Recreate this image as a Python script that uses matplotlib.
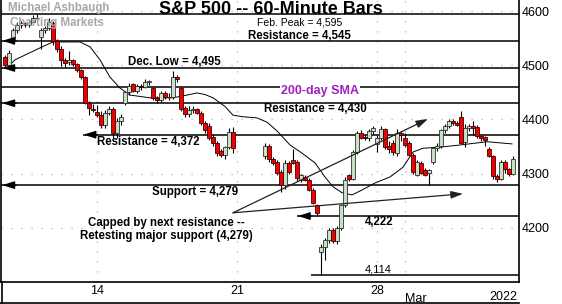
import numpy as np
import matplotlib.pyplot as plt
from matplotlib import font_manager
from matplotlib.lines import Line2D


# Busco la fuente angosta; si no esta uso la normal.
def pick(*names):
    for n in names:
        try:
            font_manager.findfont(font_manager.FontProperties(family=n), fallback_to_default=False)
            return n
        except ValueError:
            pass
    return "DejaVu Sans"


narrow = pick("Liberation Sans Narrow", "Liberation Sans")
arial = pick("Liberation Sans", "DejaVu Sans")


# Dias de la grafica y cuantas barras de 60 minutos tiene cada uno (el 21 es feriado).
days = ["02-08", "02-09", "02-10", "02-11", "02-14", "02-15", "02-16", "02-17", "02-18", "02-21",
        "02-22", "02-23", "02-24", "02-25", "02-28", "03-01", "03-02", "03-03", "03-04"]
bars_per_day = [2, 7, 7, 7, 7, 7, 7, 7, 7, 0, 7, 7, 7, 7, 7, 7, 7, 7, 7]

# Velas (open, high, low, close).
opens = [4515, 4500,
         4547, 4565, 4574, 4578, 4574, 4580, 4588,
         4553, 4565, 4568, 4578, 4545, 4530, 4510,
         4506, 4510, 4502, 4491, 4478, 4430, 4420,
         4414, 4408, 4390, 4412, 4420, 4376, 4398,
         4430, 4450, 4465, 4452, 4462, 4460, 4470,
         4458, 4440, 4436, 4449, 4441, 4442, 4478,
         4458, 4422, 4410, 4418, 4420, 4412, 4393,
         4388, 4368, 4357, 4342, 4335, 4349, 4377,
         4332, 4351, 4327, 4322, 4303, 4279, 4320,
         4325, 4322, 4289, 4294, 4289, 4270, 4242,
         4156, 4165, 4178, 4196, 4176, 4200, 4242,
         4298, 4291, 4340, 4375, 4368, 4366, 4378,
         4354, 4366, 4382, 4352, 4357, 4338, 4376,
         4366, 4357, 4335, 4298, 4320, 4307, 4302,
         4322, 4347, 4352, 4380, 4388, 4397, 4394,
         4404, 4358, 4385, 4388, 4386, 4370, 4368,
         4346, 4332, 4296, 4290, 4322, 4308, 4300]
highs = [4519, 4528,
         4568, 4580, 4582, 4580, 4584, 4592, 4595,
         4568, 4572, 4588, 4582, 4548, 4535, 4514,
         4526, 4512, 4505, 4493, 4480, 4435, 4428,
         4426, 4416, 4418, 4424, 4423, 4402, 4410,
         4452, 4468, 4468, 4466, 4466, 4474, 4473,
         4460, 4444, 4452, 4452, 4448, 4490, 4482,
         4460, 4425, 4424, 4424, 4422, 4415, 4398,
         4394, 4374, 4360, 4346, 4352, 4385, 4386,
         4356, 4354, 4330, 4325, 4306, 4325, 4324,
         4345, 4326, 4300, 4297, 4292, 4273, 4245,
         4170, 4182, 4200, 4200, 4204, 4245, 4294,
         4300, 4343, 4378, 4380, 4372, 4382, 4388,
         4372, 4388, 4385, 4360, 4362, 4382, 4378,
         4375, 4360, 4338, 4325, 4324, 4310, 4308,
         4350, 4356, 4383, 4392, 4400, 4401, 4398,
         4416, 4392, 4392, 4398, 4390, 4372, 4370,
         4350, 4335, 4300, 4325, 4326, 4310, 4332]
lows = [4497, 4497,
        4540, 4560, 4568, 4570, 4570, 4578, 4582,
        4530, 4560, 4565, 4538, 4525, 4498, 4496,
        4500, 4498, 4488, 4474, 4428, 4408, 4414,
        4404, 4385, 4384, 4408, 4366, 4366, 4390,
        4426, 4446, 4450, 4448, 4455, 4458, 4464,
        4436, 4430, 4432, 4438, 4436, 4438, 4470,
        4416, 4405, 4405, 4412, 4410, 4390, 4376,
        4362, 4352, 4332, 4330, 4327, 4345, 4338,
        4328, 4322, 4316, 4298, 4267, 4272, 4300,
        4318, 4286, 4284, 4286, 4268, 4244, 4222,
        4114, 4141, 4172, 4172, 4170, 4196, 4238,
        4287, 4288, 4336, 4364, 4362, 4360, 4374,
        4340, 4362, 4345, 4338, 4335, 4333, 4360,
        4350, 4332, 4300, 4295, 4300, 4295, 4279,
        4318, 4342, 4348, 4376, 4385, 4390, 4388,
        4355, 4350, 4378, 4372, 4366, 4360, 4352,
        4330, 4290, 4284, 4288, 4302, 4296, 4298]
closes = [4500, 4522,
          4565, 4574, 4578, 4574, 4580, 4588, 4587,
          4565, 4568, 4580, 4545, 4530, 4510, 4504,
          4510, 4502, 4491, 4478, 4430, 4422, 4418,
          4408, 4390, 4412, 4420, 4376, 4398, 4404,
          4450, 4462, 4452, 4462, 4460, 4470, 4471,
          4440, 4436, 4449, 4441, 4442, 4478, 4475,
          4420, 4410, 4418, 4420, 4412, 4393, 4380,
          4366, 4357, 4338, 4335, 4349, 4377, 4348,
          4351, 4327, 4320, 4301, 4279, 4320, 4304,
          4320, 4292, 4298, 4289, 4270, 4246, 4228,
          4165, 4178, 4196, 4176, 4200, 4242, 4288,
          4291, 4340, 4375, 4366, 4366, 4378, 4385,
          4366, 4382, 4350, 4345, 4340, 4376, 4372,
          4353, 4335, 4303, 4322, 4302, 4298, 4306,
          4347, 4352, 4380, 4388, 4397, 4394, 4390,
          4357, 4385, 4388, 4385, 4370, 4366, 4363,
          4332, 4296, 4290, 4322, 4308, 4300, 4327]

ma_bar = [1, 2.5, 8.75, 12, 18.75, 21.25, 23.75, 26.25, 28.75, 31.25, 36.25, 42, 45.5, 48, 50, 52,
          55, 57, 59.5, 63, 65.5, 68, 71.25, 74.25, 77.5, 80, 82, 84.25, 86.75, 89.25, 92.5, 96.25,
          99.5, 102, 104.5, 108.75, 113.75, 120.5, 126.75]
ma_val = [4499, 4510, 4532, 4543, 4543, 4534, 4510, 4478, 4458, 4445, 4440, 4440, 4445, 4449, 4446, 4440,
          4424, 4408, 4405, 4403, 4395, 4379, 4353, 4338, 4320, 4294, 4276, 4265, 4261, 4270, 4283, 4294,
          4312, 4340, 4347, 4349, 4353, 4359, 4355]

# Niveles horizontales.
peak = 4595
res1 = 4545
dec_low = 4495
sma200 = 4460
res2 = 4430
res3 = 4372
support = 4279
low1 = 4222
low2 = 4114

ytick_vals = [4200, 4300, 4400, 4500, 4600]
xtick_days = ["02-14", "02-21", "02-28"]
xtick_labels = ["14", "21", "28"]


# Posicion de cada barra: 7 lugares por dia; el primer dia esta cortado por la izquierda.
start = {d: 7 * k - 5 for k, d in enumerate(days)}
x = []
for d, n in zip(days, bars_per_day):
    x += [start[d] + 7 - n + j for j in range(n)]
x = np.array(x)

o = np.array(opens)
h = np.array(highs)
l = np.array(lows)
c = np.array(closes)
up = c >= o


# Grafico.
fig = plt.figure(figsize=(5.62, 3.04), dpi=100)
ax = fig.add_axes([1 / 562, 1 - 282 / 304, 518 / 562, 282 / 304])
ax.set_xlim(-1, 128.5)
ax.set_ylim(4100.4, 4620.3)

grid_kw = dict(color="#b0b0b0", lw=0.9, ls=(0, (1, 7)), zorder=0)
for yv in ytick_vals:
    ax.axhline(yv, **grid_kw)
for d in xtick_days + ["03-01"]:
    ax.axvline(start[d], **grid_kw)

# Lineas de soporte / resistencia.
line_kw = dict(color="black", lw=1.1, zorder=2)
for lvl in [peak, res1, dec_low, sma200, res2, support]:
    ax.hlines(lvl, -1, 128.5, **line_kw)
ax.hlines(res3, 19.5, 128.5, **line_kw)
ax.hlines(low1, 73, 128.5, **line_kw)
ax.hlines(low2, 76.5, 128.5, **line_kw)

arrow_kw = dict(arrowstyle="-|>,head_length=0.8,head_width=0.25", color="black", lw=1.0,
                shrinkA=0, shrinkB=0, mutation_scale=9)
for lvl, tip in [(res1, -0.7), (dec_low, -0.7), (res2, -0.7), (support, -0.7), (res3, 19.6), (low1, 73.2)]:
    ax.annotate("", xy=(tip, lvl), xytext=(tip + 3.5, lvl), arrowprops=arrow_kw, zorder=6)

# Lineas de tendencia.
trend_kw = dict(arrow_kw, color="#222222", lw=0.9)
ax.annotate("", xy=(105.75, 4401), xytext=(57, 4228), arrowprops=trend_kw, zorder=6)
ax.annotate("", xy=(114.5, 4263), xytext=(57, 4228), arrowprops=trend_kw, zorder=6)

# Promedio movil.
ax.plot(ma_bar, ma_val, color="black", lw=0.7, zorder=3)

# Velas.
ax.vlines(x, l, h, color="black", lw=0.8, zorder=4)
ax.bar(x[up], (c - o)[up], bottom=o[up], width=0.8, color="#c6e2c6", edgecolor="#303030", lw=0.6, zorder=5)
ax.bar(x[~up], (o - c)[~up], bottom=c[~up], width=0.8, color="#f00000", edgecolor="#400000", lw=0.6, zorder=5)

# Textos.
bold = dict(fontfamily=narrow, fontweight="bold", fontsize=8.3, color="black", zorder=7)
ax.text(73.75, 4579, "Feb. Peak = 4,595", ha="center", va="center", fontfamily=arial, fontsize=7.5)
ax.text(73.5, 4554, "Resistance = 4,545", ha="center", va="center", **bold)
ax.text(30.75, 4506, "Dec. Low = 4,495", ha="left", va="center", **bold)
ax.text(69, 4452, "200-day SMA", ha="left", va="center", fontfamily=narrow, fontweight="bold",
        fontsize=9, color="#a020c0", bbox=dict(fc="white", ec="none", pad=0.5), zorder=7)
ax.text(77.5, 4419, "Resistance = 4,430", ha="center", va="center", **bold)
ax.text(23, 4359, "Resistance = 4,372", ha="left", va="center", **bold)
ax.text(36.75, 4267, "Support = 4,279", ha="left", va="center", **bold)
ax.text(40.25, 4198, "Capped by next resistance --\nRetesting major support (4,279)", ha="center",
        va="center", linespacing=1.1, **bold)
ax.text(90, 4211, "4,222", ha="left", va="center", **bold)
ax.text(90, 4124, "4,114", ha="left", va="center", fontfamily=arial, fontsize=8)

fig.text(271 / 562, 1 - 10 / 304, "S&P 500 -- 60-Minute Bars", ha="center", va="center",
         fontfamily=narrow, fontweight="bold", fontsize=13)
fig.text(8 / 562, 1 - 8 / 304, "Michael Ashbaugh", ha="left", va="center", fontfamily=narrow,
         fontweight="bold", fontsize=8.3, color="#a8a8a8")
fig.text(10 / 562, 1 - 23 / 304, "Charting Markets", ha="left", va="center", fontfamily=narrow,
         fontweight="bold", fontsize=8.3, color="#a8a8a8")

# Ejes.
ax.yaxis.tick_right()
ax.set_yticks(ytick_vals)
ax.set_yticklabels([str(v) for v in ytick_vals], fontfamily=arial, fontsize=9)
ax.set_xticks([start[d] for d in xtick_days])
ax.set_xticklabels(xtick_labels, fontfamily=arial, fontsize=9)
ax.tick_params(axis="both", length=0, pad=2)
ax.spines["top"].set_visible(False)
for s in ["left", "right", "bottom"]:
    ax.spines[s].set_linewidth(1.2)

fig.text(405 / 562, 1 - 299 / 304, "Mar", ha="left", va="center", fontfamily=arial, fontsize=9)
fig.text(503 / 562, 1 - 297 / 304, "2022", ha="center", va="center", fontfamily=arial, fontsize=9)

# Marco de abajo.
fig.add_artist(Line2D([0, 519 / 562], [0.7 / 304, 0.7 / 304], color="black", lw=1.2, transform=fig.transFigure))
fig.add_artist(Line2D([1.5 / 562, 1.5 / 562], [0, 1 - 282 / 304], color="black", lw=1.2, transform=fig.transFigure))

plt.savefig("out.png", dpi=100)
